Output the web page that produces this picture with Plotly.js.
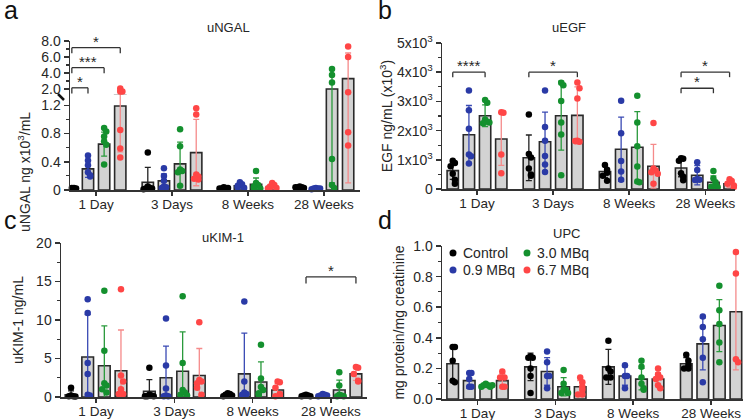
<!DOCTYPE html>
<html>
<head>
<meta charset="utf-8">
<script src="https://cdn.plot.ly/plotly-3.0.1.min.js"></script>
<style>
  html, body { margin: 0; padding: 0; background: #fff; }
  #chart { width: 749px; height: 420px; }
</style>
</head>
<body>
<div id="chart"></div>
<script>
const timepoints = ['1 Day', '3 Days', '8 Weeks', '28 Weeks'];
const doses = ['Control', '0.9 MBq', '3.0 MBq', '6.7 MBq'];
const doseColors = ['#000000', '#2a3aa6', '#14902e', '#ff4646'];
const errColors = ['#222222', '#3a4ab4', '#2a9a3c', '#f58a8a'];

// rows = dose, cols = timepoint
// uNGAL (ng x10^3/mL)
const ngalMean = [
  [0.03, 0.11, 0.03, 0.04],
  [0.30, 0.13, 0.06, 0.02],
  [0.65, 0.37, 0.08, 2.0],
  [1.19, 0.53, 0.05, 3.3]
];
const ngalSd = [
  [0.005, 0.21, 0.01, 0.01],
  [0.12, 0.10, 0.03, 0.005],
  [0.17, 0.31, 0.09, 1.9],
  [0.65, 0.47, 0.03, 3.2]
];
const ngalPts = [
  [[0.03, 0.03, 0.03, 0.02, 0.03], [0.53, 0.05, 0.03, 0.02, 0.02, 0.01], [0.04, 0.03, 0.02, 0.03, 0.02], [0.05, 0.04, 0.04, 0.03, 0.04]],
  [[0.49, 0.42, 0.35, 0.25, 0.21, 0.19], [0.31, 0.2, 0.13, 0.05, 0.04, 0.03], [0.11, 0.08, 0.06, 0.04, 0.03], [0.03, 0.02, 0.02, 0.02, 0.01]],
  [[0.88, 0.83, 0.76, 0.69, 0.64, 0.36], [0.86, 0.62, 0.29, 0.27, 0.25, 0.06], [0.27, 0.1, 0.07, 0.05, 0.03, 0.02], [4.5, 3.75, 2.8, 0.44, 0.07, 0.03]],
  [[2.05, 1.7, 1.7, 0.85, 0.59, 0.46], [1.16, 1.07, 0.22, 0.19, 0.15, 0.16], [0.1, 0.07, 0.05, 0.04, 0.03, 0.02], [7.3, 6.0, 1.6, 0.82, 0.63]]
];

// uEGF (ng/mL)
const egfMean = [
  [630, 1070, 600, 720],
  [1860, 1620, 1360, 470],
  [2510, 2510, 1430, 230],
  [1710, 2520, 780, 180]
];
const egfSd = [
  [300, 780, 200, 300],
  [1000, 1010, 1100, 330],
  [370, 1180, 1220, 220],
  [900, 980, 750, 130]
];
const egfPts = [
  [[970, 890, 780, 525, 320, 180], [2550, 1200, 1080, 700, 500, 450], [820, 660, 560, 450, 280], [1050, 1040, 970, 540, 420, 300]],
  [[3370, 2700, 2060, 1180, 1120, 870], [3370, 2120, 1650, 1130, 840, 580], [3020, 1910, 960, 600, 320], [920, 650, 340, 320, 310]],
  [[3050, 2950, 2380, 2300, 2250, 2280], [3640, 3550, 3010, 2280, 1870, 470], [3190, 2280, 1460, 770, 260, 230], [620, 360, 230, 120, 80, 60]],
  [[2630, 2610, 1180, 540], [3650, 3450, 3100, 1650, 1620, 1640], [2260, 700, 630, 570, 520, 180], [330, 270, 180, 120, 70]]
];

// uKIM-1 (ng/mL)
const kimMean = [
  [0.3, 0.75, 0.3, 0.2],
  [5.2, 2.5, 3.0, 0.25],
  [4.05, 3.35, 1.95, 0.9],
  [3.4, 2.8, 0.9, 3.0]
];
const kimSd = [
  [0.5, 1.5, 0.2, 0.1],
  [5.5, 4.1, 5.3, 0.1],
  [5.2, 5.1, 2.6, 1.3],
  [5.3, 3.5, 0.85, 0.85]
];
const kimPts = [
  [[1.2, 0.2, 0.1, 0.1, 0.05], [3.8, 0.3, 0.2, 0.1, 0.1, 0.1], [0.5, 0.4, 0.3, 0.2, 0.1], [0.3, 0.2, 0.2, 0.1, 0.1]],
  [[12.7, 10.9, 4.4, 3.0, 0.3, 0.2], [10.2, 4.1, 1.1, 0.2, 0.1, 0.1], [12.4, 2.0, 0.6, 0.4, 0.3], [0.4, 0.3, 0.2, 0.2, 0.1]],
  [[13.8, 6.0, 1.8, 1.5, 1.0, 0.6], [13.1, 4.4, 0.9, 0.6, 0.3, 0.2], [6.8, 2.4, 1.3, 0.9, 0.5, 0.3], [3.2, 1.5, 0.3, 0.2, 0.1, 0.1]],
  [[14.0, 2.8, 2.0, 1.0, 0.4, 0.4], [9.7, 2.2, 2.0, 1.8, 1.2, 0.3], [2.0, 1.9, 1.2, 0.4, 0.2, 0.1], [3.9, 3.8, 3.0, 2.1, 2.0]]
];

// UPC (mg protein/mg creatinine)
const upcMean = [
  [0.23, 0.21, 0.21, 0.23],
  [0.12, 0.18, 0.15, 0.36],
  [0.09, 0.08, 0.13, 0.48],
  [0.12, 0.08, 0.13, 0.57]
];
const upcSd = [
  [0.11, 0.09, 0.115, 0.04],
  [0.05, 0.09, 0.06, 0.17],
  [0.01, 0.06, 0.07, 0.17],
  [0.045, 0.04, 0.04, 0.38]
];
const upcPts = [
  [[0.34, 0.34, 0.25, 0.12, 0.11], [0.28, 0.27, 0.27, 0.2, 0.15, 0.04], [0.38, 0.2, 0.18, 0.14, 0.14], [0.29, 0.25, 0.22, 0.2, 0.2]],
  [[0.17, 0.17, 0.13, 0.08, 0.08], [0.31, 0.24, 0.15, 0.15, 0.07], [0.22, 0.15, 0.15, 0.07], [0.54, 0.47, 0.39, 0.27, 0.11]],
  [[0.1, 0.09, 0.09, 0.08, 0.08, 0.09], [0.19, 0.1, 0.06, 0.06, 0.04, 0.04], [0.25, 0.21, 0.14, 0.1, 0.07, 0.06], [0.74, 0.58, 0.49, 0.37, 0.24]],
  [[0.18, 0.14, 0.14, 0.08, 0.08], [0.14, 0.11, 0.08, 0.06, 0.03, 0.03], [0.2, 0.16, 0.14, 0.13, 0.09, 0.07], [0.96, 0.82, 0.26, 0.24]]
];

const W = 749, H = 420;
const FONT = 'Arial, "Liberation Sans", sans-serif';
const INK = '#262626';
const BARGAP = 0.15, GROUPGAP = 0.3;
const SPREAD = 0.028;        // horizontal step between overlapping dots (x units)
const NGAL_BREAK = 1.3;      // where the uNGAL axis is broken

const pxX = (a, b) => [a / W, b / W];
const pxY = (top, bottom) => [(H - bottom) / H, (H - top) / H];
const tickIdx = timepoints.map((_, i) => i);

// bar centre offset inside a timepoint group
function groupOffset(g) {
  const span = 1 - BARGAP;
  return -span / 2 + (g + 0.5) * span / doses.length;
}

// column-scatter placement: dots close in value are spread sideways
function placeDots(pts, d, close) {
  const out = [];
  pts.forEach((vals, t) => {
    const placed = [];
    vals.forEach((v) => {
      const n = placed.filter((p) => Math.abs(p - v) < close).length;
      const k = n === 0 ? 0 : (n % 2 ? (n + 1) / 2 : -n / 2);
      out.push({ x: t + groupOffset(d) + k * SPREAD, y: v });
      placed.push(v);
    });
  });
  return out;
}

function panelTraces(mean, sd, pts, xa, ya, close, keep) {
  const traces = [];
  doses.forEach((name, d) => {
    traces.push({
      type: 'bar', name, x: tickIdx, y: mean[d], xaxis: xa, yaxis: ya,
      marker: { color: '#d3d3d3', line: { color: '#2a2a2a', width: 1.6 } },
      error_y: { type: 'data', array: sd[d], color: errColors[d], thickness: 1.3, width: 3 },
      showlegend: false, hoverinfo: 'skip'
    });
  });
  doses.forEach((name, d) => {
    const dots = placeDots(pts[d], d, close).filter((p) => keep(p.y));
    traces.push({
      type: 'scatter', mode: 'markers', name, xaxis: xa, yaxis: ya,
      x: dots.map((p) => p.x), y: dots.map((p) => p.y),
      marker: { color: doseColors[d], size: 6.5 },
      cliponaxis: false, showlegend: false, hoverinfo: 'skip'
    });
  });
  return traces;
}

const axisBase = {
  showline: true, linecolor: '#333', linewidth: 1.5,
  ticks: 'outside', ticklen: 5, tickwidth: 1.5, tickcolor: '#333',
  showgrid: false, zeroline: false, fixedrange: true,
  tickfont: { family: FONT, size: 14, color: INK }
};
const minorBase = { ticks: 'outside', ticklen: 3, tickwidth: 1.2, tickcolor: '#333' };
const titleFont = { family: FONT, size: 14, color: INK };

function xAxis(domain, range, anchor) {
  return {
    ...axisBase, tickmode: 'array', tickvals: tickIdx, ticktext: timepoints,
    ticklen: 4, ticklabelstandoff: -3, tickfont: { family: FONT, size: 13.5, color: INK },
    domain, range, anchor
  };
}

const shapes = [];
const annotations = [];

function bracket(xa, ya, t, g0, g1, y, drop, label) {
  const x0 = t + groupOffset(g0), x1 = t + groupOffset(g1);
  const line = { color: '#333', width: 1.3 };
  shapes.push({ type: 'line', xref: xa, yref: ya, x0, x1, y0: y, y1: y, line });
  shapes.push({ type: 'line', xref: xa, yref: ya, x0, x1: x0, y0: y, y1: y - drop, line });
  shapes.push({ type: 'line', xref: xa, yref: ya, x0: x1, x1, y0: y, y1: y - drop, line });
  annotations.push({
    xref: xa, yref: ya, x: (x0 + x1) / 2, y, text: label, showarrow: false,
    yanchor: 'bottom', yshift: -4, font: { family: FONT, size: 15, color: INK }
  });
}

// significance brackets
bracket('x', 'y2', 0, 0, 1, 2.15, 0.7, '*');
bracket('x', 'y2', 0, 0, 2, 4.66, 0.7, '***');
bracket('x', 'y2', 0, 0, 3, 7.16, 0.7, '*');
bracket('x2', 'y3', 0, 0, 2, 4000, 170, '****');
bracket('x2', 'y3', 1, 0, 3, 4000, 170, '*');
bracket('x2', 'y3', 3, 0, 3, 4000, 170, '*');
bracket('x2', 'y3', 3, 0, 2, 3450, 170, '*');
bracket('x3', 'y4', 3, 0, 3, 15.6, 0.85, '*');

// axis break mark on uNGAL
shapes.push({ type: 'line', xref: 'paper', yref: 'paper', x0: 58 / W, x1: 64 / W, y0: (H - 94) / H, y1: (H - 100) / H, line: { color: '#111', width: 2.5 } });

// panel letters and titles
[['a', 2, 26], ['b', 376, 26], ['c', 2, 236], ['d', 376, 236]].forEach(([t, x, y]) => {
  annotations.push({ xref: 'paper', yref: 'paper', x: x / W, y: (H - y) / H, xanchor: 'left', yanchor: 'bottom', text: t, showarrow: false, font: { family: FONT, size: 25, color: '#111' } });
});
[['uNGAL', 205, 28], ['uEGF', 588, 28], ['uKIM-1', 200, 237], ['UPC', 582, 233]].forEach(([t, x, y]) => {
  annotations.push({ xref: 'paper', yref: 'paper', x: x / W, y: (H - y) / H, yanchor: 'middle', text: t, showarrow: false, font: { family: FONT, size: 13, color: INK } });
});
// y title for the broken uNGAL axis
annotations.push({ xref: 'paper', yref: 'paper', x: 13 / W, y: (H - 110) / H, text: 'uNGAL ng x10<sup>3</sup>/mL', textangle: -90, showarrow: false, font: titleFont });

// legend (panel d)
const legendPos = [[453, 253], [453, 270], [527, 253], [527, 270]];
doses.forEach((name, d) => {
  const [lx, ly] = legendPos[d];
  shapes.push({
    type: 'circle', xref: 'paper', yref: 'paper', xsizemode: 'pixel', ysizemode: 'pixel',
    xanchor: lx / W, yanchor: (H - ly) / H, x0: -3.5, x1: 3.5, y0: -3.5, y1: 3.5,
    fillcolor: doseColors[d], line: { width: 0 }
  });
  annotations.push({ xref: 'paper', yref: 'paper', x: (lx + 8) / W, y: (H - ly) / H, xanchor: 'left', text: name, showarrow: false, font: { family: FONT, size: 14, color: INK } });
});

const layout = {
  width: W, height: H,
  margin: { l: 0, r: 0, t: 0, b: 0 },
  paper_bgcolor: '#fff', plot_bgcolor: 'rgba(0,0,0,0)',
  font: { family: FONT, color: INK },
  showlegend: false,
  barmode: 'group', bargap: BARGAP, bargroupgap: GROUPGAP,
  xaxis: xAxis(pxX(70, 360), [-0.343, 3.475], 'y'),
  yaxis: {
    ...axisBase, domain: pxY(95, 190), range: [0, 1.347], anchor: 'x',
    tickmode: 'linear', tick0: 0, dtick: 0.4, tickformat: '.1~f',
    minor: { ...minorBase, tickmode: 'linear', tick0: 0, dtick: 0.2 }
  },
  yaxis2: {
    ...axisBase, domain: pxY(41, 95), range: [1.25, 8], anchor: 'x',
    tickmode: 'linear', tick0: 0, dtick: 2, tickformat: '.1f',
    minor: { ...minorBase, tickmode: 'linear', tick0: 0, dtick: 1 }
  },
  xaxis2: xAxis(pxX(442, 735), [-0.46, 3.39], 'y3'),
  yaxis3: {
    ...axisBase, domain: pxY(43, 189), range: [0, 5000], anchor: 'x2',
    tickmode: 'linear', tick0: 0, dtick: 1000,
    labelalias: { '1000': '1x10<sup>3</sup>', '2000': '2x10<sup>3</sup>', '3000': '3x10<sup>3</sup>', '4000': '4x10<sup>3</sup>', '5000': '5x10<sup>3</sup>' },
    tickformat: 'd',
    minor: { ...minorBase, dtick: 500 },
    title: { text: 'EGF ng/mL (x10<sup>3</sup>)', font: titleFont }
  },
  xaxis3: xAxis(pxX(61, 367), [-0.447, 3.46], 'y4'),
  yaxis4: {
    ...axisBase, domain: pxY(243, 397), range: [0, 20], anchor: 'x3',
    tickmode: 'linear', dtick: 5,
    minor: { ...minorBase, dtick: 2.5 },
    title: { text: 'uKIM-1 ng/mL', font: titleFont }
  },
  xaxis4: xAxis(pxX(442, 743), [-0.456, 3.41], 'y5'),
  yaxis5: {
    ...axisBase, domain: pxY(246, 399), range: [0, 1], anchor: 'x4',
    tickmode: 'linear', dtick: 0.2, tickformat: '.1f',
    minor: { ...minorBase, dtick: 0.1 },
    title: { text: 'mg protein/mg creatinine', font: titleFont }
  },
  shapes,
  annotations
};

const all = () => true;
const traces = [
  ...panelTraces(ngalMean, ngalSd, ngalPts, 'x', 'y', 0.06, (v) => v < NGAL_BREAK),
  ...panelTraces(ngalMean, ngalSd, ngalPts, 'x', 'y2', 0.06, (v) => v >= NGAL_BREAK),
  ...panelTraces(egfMean, egfSd, egfPts, 'x2', 'y3', 220, all),
  ...panelTraces(kimMean, kimSd, kimPts, 'x3', 'y4', 0.9, all),
  ...panelTraces(upcMean, upcSd, upcPts, 'x4', 'y5', 0.04, all)
];

Plotly.newPlot('chart', traces, layout, { displayModeBar: false, staticPlot: true });
</script>
</body>
</html>
